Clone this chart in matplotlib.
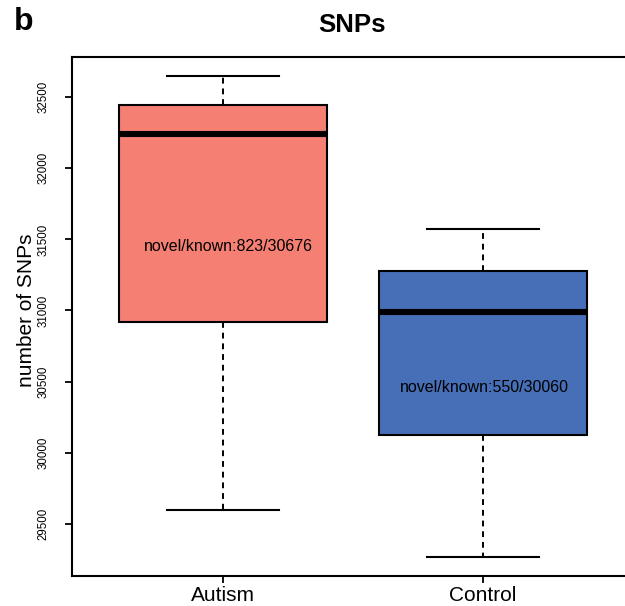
import matplotlib
matplotlib.use('Agg')
import matplotlib.pyplot as plt

plt.rcParams['font.family'] = ['Liberation Sans', 'DejaVu Sans']

# data
groups = ['Autism', 'Control']
whisker_low = [29598, 29267]
q1 = [30919, 30125]
median = [32240, 30989]
q3 = [32444, 31277]
whisker_high = [32648, 31572]
notes = ['novel/known:823/30676', 'novel/known:550/30060']
box_colors = ['#F47F72', '#476FB7']
y_ticks = [29500, 30000, 30500, 31000, 31500, 32000, 32500]

fig = plt.figure(figsize=(6.25, 6.06), dpi=100)
ax = fig.add_axes([0.1152, 0.0495, 0.8986, 0.8564])

stats = []
for i, g in enumerate(groups):
    stats.append({'label': g, 'whislo': whisker_low[i], 'q1': q1[i], 'med': median[i],
                  'q3': q3[i], 'whishi': whisker_high[i], 'fliers': []})

bp = ax.bxp(stats, positions=[1, 2], widths=0.8, capwidths=0.43, patch_artist=True,
            showfliers=False,
            boxprops=dict(linewidth=1.5, edgecolor='black'),
            medianprops=dict(color='black', linewidth=4.4, solid_capstyle='butt'),
            whiskerprops=dict(color='black', linewidth=1.4, linestyle=(0, (3, 2.5))),
            capprops=dict(color='black', linewidth=1.5))
for patch, c in zip(bp['boxes'], box_colors):
    patch.set_facecolor(c)

# R-style 4% axis extension
lo, hi = min(whisker_low), max(whisker_high)
ext = (hi - lo) * 0.04
ax.set_ylim(lo - ext, hi + ext)
ax.set_xlim(0.42, 2.58)

# note inside each box, roughly in the middle of the box
note_x = [1.02, 2.005]
note_y = [31453, 30455]
for i, t in enumerate(notes):
    ax.text(note_x[i], note_y[i], t, ha='center', va='center', fontsize=11.5)

ax.set_yticks(y_ticks)
ax.set_yticklabels([str(v) for v in y_ticks], rotation=90, va='center', fontsize=8.3)
ax.set_xticks([1, 2])
ax.set_xticklabels(groups, fontsize=15)
ax.tick_params(axis='y', length=5, width=1.3, pad=11)
ax.tick_params(axis='x', length=5, width=1.3, pad=2)
for s in ax.spines.values():
    s.set_linewidth(1.5)
ax.spines['right'].set_visible(False)

fig.text(352 / 625, 1 - 25 / 606, 'SNPs', ha='center', va='center', fontsize=18.5, fontweight='bold')
fig.text(24 / 625, 1 - 22 / 606, 'b', ha='center', va='center', fontsize=23, fontweight='bold')
fig.text(27 / 625, 1 - 310 / 606, 'number of SNPs', ha='center', va='center', rotation=90, fontsize=15)

fig.savefig('out.png', dpi=100)
